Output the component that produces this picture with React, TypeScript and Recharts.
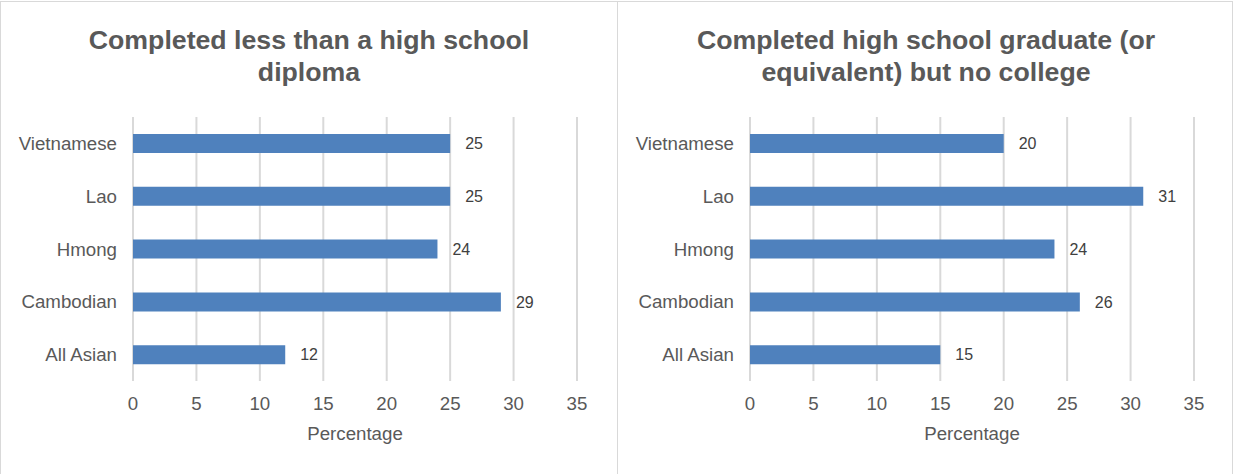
import React from 'react';
import { BarChart, Bar, XAxis, YAxis, CartesianGrid, LabelList } from 'recharts';

const categories = ['Vietnamese', 'Lao', 'Hmong', 'Cambodian', 'All Asian'];
const lessThanHighSchool = [25, 25, 24, 29, 12];
const highSchoolNoCollege = [20, 31, 24, 26, 15];
const xTicks = [0, 5, 10, 15, 20, 25, 30, 35];
const titleLeft = ['Completed less than a high school', 'diploma'];
const titleRight = ['Completed high school graduate (or', 'equivalent) but no college'];
const axisTitle = 'Percentage';

const FONT = '"Liberation Sans", Arial, Helvetica, sans-serif';

function Panel({ title, values, left, width, borderLeft }: { title: string[]; values: number[]; left: number; width: number; borderLeft: boolean }) {
  const data = categories.map((name, i) => ({ name, value: values[i] }));
  const innerW = 616;
  return (
    <div
      style={{
        position: 'absolute',
        left,
        top: 1,
        width,
        height: 520,
        boxSizing: 'border-box',
        border: '1px solid #D9D9D9',
        borderLeft: borderLeft ? '1px solid #D9D9D9' : 'none',
        background: '#fff',
      }}
    >
      <div
        style={{
          position: 'absolute',
          left: 0,
          top: 22,
          width: innerW,
          textAlign: 'center',
          fontFamily: FONT,
          fontWeight: 'bold',
          fontSize: 26.7,
          lineHeight: '32px',
          color: '#595959',
        }}
      >
        {title.map((t, i) => (
          <div key={i}>{t}</div>
        ))}
      </div>
      <div style={{ position: 'absolute', left: 0, top: 0 }}>
        <BarChart
          width={innerW}
          height={472}
          data={data}
          layout="vertical"
          margin={{ top: 115, right: 40, bottom: 33, left: 0 }}
          barCategoryGap={0}
        >
          <CartesianGrid horizontal={false} vertical={true} stroke="#D9D9D9" strokeWidth={2} />
          <XAxis
            type="number"
            domain={[0, 35]}
            ticks={xTicks}
            interval={0}
            axisLine={false}
            tickLine={false}
            tickMargin={10}
            height={60}
            tick={{ fill: '#595959', fontSize: 18.7, fontFamily: FONT }}
            label={{ value: axisTitle, position: 'bottom', offset: -14, fill: '#595959', fontSize: 18.7, fontFamily: FONT }}
          />
          <YAxis
            type="category"
            dataKey="name"
            width={132}
            axisLine={false}
            tickLine={false}
            tickMargin={10}
            interval={0}
            tick={{ fill: '#595959', fontSize: 18.7, fontFamily: FONT }}
          />
          <Bar dataKey="value" fill="#4F81BD" barSize={19} isAnimationActive={false}>
            <LabelList dataKey="value" position="right" offset={15} fill="#404040" fontSize={16} fontFamily={FONT} />
          </Bar>
        </BarChart>
      </div>
    </div>
  );
}

export default function App() {
  return (
    <div
      style={{
        position: 'absolute',
        left: 0,
        top: 0,
        width: 1233,
        height: 474,
        overflow: 'hidden',
        background: '#fff',
      }}
    >
      <Panel title={titleLeft} values={lessThanHighSchool} left={0} width={618} borderLeft={true} />
      <Panel title={titleRight} values={highSchoolNoCollege} left={618} width={615} borderLeft={false} />
    </div>
  );
}
